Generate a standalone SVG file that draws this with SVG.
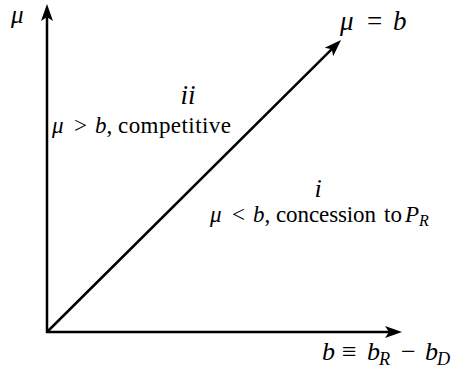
<svg xmlns="http://www.w3.org/2000/svg" width="452" height="370" viewBox="0 0 452 370">
<style>
.ax{stroke:#000;stroke-width:2.5;fill:none}
text{font-family:"Liberation Serif","DejaVu Serif",serif;fill:#000}
.m{font-style:italic}
.sub{font-size:70%;font-style:italic}
.big{font-size:27px}
.sm{font-size:23px}
</style>
<defs>
<marker id="ah" markerUnits="userSpaceOnUse" markerWidth="20" markerHeight="14" viewBox="0 -7 18 14" refX="4" refY="0" orient="auto" overflow="visible">
<path d="M0,-6 L17,0 L0,6 L4,0 Z" fill="#000"/>
</marker>
</defs>
<rect width="452" height="370" fill="#fff"/>
<g id="connectors">
<line class="ax" x1="47" y1="333" x2="47" y2="17" marker-end="url(#ah)"/>
<line class="ax" x1="46" y1="332" x2="389" y2="332" marker-end="url(#ah)"/>
<line class="ax" x1="47" y1="332" x2="331.8" y2="49.2" marker-end="url(#ah)"/>
</g>
<g id="label-mu-axis"><text x="11" y="23" font-size="25" class="m">μ</text></g>
<g id="label-diag"><text y="30" class="big"><tspan x="340" class="m">μ</tspan><tspan x="367">=</tspan><tspan x="393" class="m">b</tspan></text></g>
<g id="region-ii">
<text x="188" y="104" class="big m" text-anchor="middle">ii</text>
<text y="133" class="sm"><tspan x="52" class="m">μ</tspan><tspan x="74">&gt;</tspan><tspan x="95"><tspan class="m">b</tspan>,</tspan><tspan x="118" textLength="113" lengthAdjust="spacing">competitive</tspan></text>
</g>
<g id="region-i">
<text x="318" y="197" font-size="26" class="m" text-anchor="middle">i</text>
<text y="222" class="sm"><tspan x="210" class="m">μ</tspan><tspan x="232">&lt;</tspan><tspan x="253"><tspan class="m">b</tspan>,</tspan><tspan x="276" textLength="100" lengthAdjust="spacing">concession</tspan><tspan x="384">to</tspan><tspan x="405" class="m">P</tspan><tspan class="sub" x="419" dy="4">R</tspan></text>
</g>
<g id="label-b-axis"><text y="360" font-size="26"><tspan x="322" class="m">b</tspan><tspan x="342">≡</tspan><tspan x="367" class="m">b</tspan><tspan class="sub" x="379" dy="5">R</tspan><tspan x="401" dy="-5">−</tspan><tspan x="425" class="m">b</tspan><tspan class="sub" x="437" dy="5">D</tspan></text></g>
</svg>
